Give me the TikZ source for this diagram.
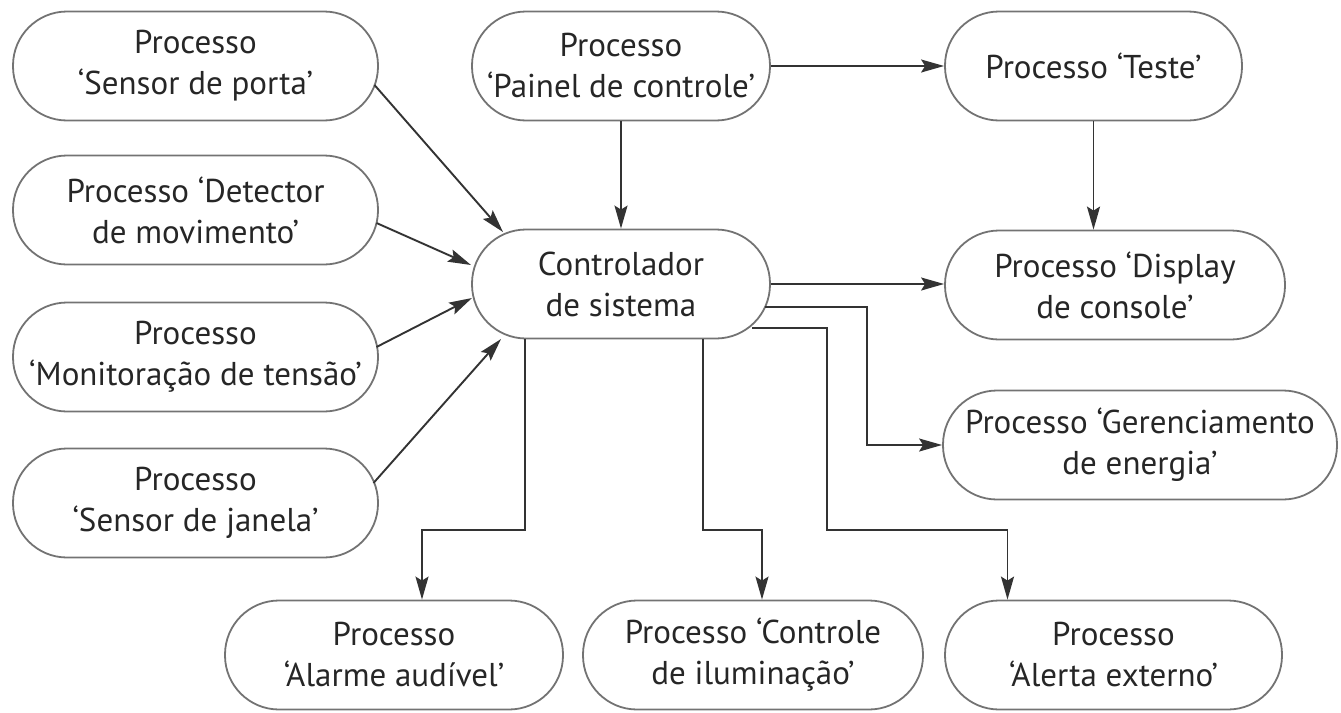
\documentclass[tikz,border=0pt]{standalone}
\usepackage{fontspec}
\setmainfont{PT Sans}
\usetikzlibrary{arrows.meta}
\definecolor{boxgray}{gray}{0.45}
\definecolor{txt}{gray}{0.15}
\definecolor{wire}{gray}{0.2}
\begin{document}
\begin{tikzpicture}[x=1pt,y=-1pt,
  proc/.style={draw=boxgray, line width=1.8pt, rounded corners=54pt,
    align=center, inner sep=0pt, minimum height=109pt, text=txt,
    font=\fontsize{33}{41}\selectfont},
  link/.style={draw=wire, line width=1.9pt,
    -{Stealth[length=23pt,width=13pt,inset=4pt]}}]
\useasboundingbox (0,0) rectangle (1341,712);

% input processes
\node[proc, minimum width=365pt] (sp) at (195.5,66)  {Processo\\‘Sensor de porta’};
\node[proc, minimum width=365pt] (dm) at (195.5,210) {Processo ‘Detector\\de movimento’};
\node[proc, minimum width=365pt] (mt) at (195.5,357) {Processo\\‘Monitoração de tensão’};
\node[proc, minimum width=365pt] (sj) at (195.5,503) {Processo\\‘Sensor de janela’};

% top row and controller
\node[proc, minimum width=298pt] (pc) at (621,66)    {Processo\\‘Painel de controle’};
\node[proc, minimum width=297pt] (ts) at (1093.5,66) {Processo ‘Teste’};
\node[proc, minimum width=298pt] (ct) at (621,284)   {Controlador\\de sistema};

% output processes
\node[proc, minimum width=340pt] (dc) at (1115,285)  {Processo ‘Display\\de console’};
\node[proc, minimum width=394pt] (ge) at (1140,445)  {Processo ‘Gerenciamento\\de energia’};
\node[proc, minimum width=338pt] (aa) at (394,655)   {Processo\\‘Alarme audível’};
\node[proc, minimum width=340pt] (ci) at (753,655)   {Processo ‘Controle\\de iluminação’};
\node[proc, minimum width=337pt] (ae) at (1113.5,655){Processo\\‘Alerta externo’};

% sensors into the controller
\draw[link] ([shift={(179,19)}]sp.center)  -- ([shift={(-118,-52)}]ct.center);
\draw[link] ([shift={(181,13)}]dm.center)  -- ([shift={(-150,-19)}]ct.center);
\draw[link] ([shift={(181,-10)}]mt.center) -- ([shift={(-149,14)}]ct.center);
\draw[link] ([shift={(178,-20)}]sj.center) -- ([shift={(-120,55)}]ct.center);

% control panel and test
\draw[link] (pc.east) -- (ts.west);
\draw[link] (pc.south) -- (ct.north);
\draw[link] (ts.south) -- (ts.south |- dc.north);

% controller outputs
\draw[link] (ct.east) -- (ct.east -| dc.west);
\draw[link] ([shift={(144,23)}]ct.center) -- ++(102,0) |- (ge.west);
\draw[link] ([shift={(131,44)}]ct.center) -- ++(75,0)
  |- ([xshift=-106pt,yshift=70pt]ae.north) -- ([xshift=-106pt]ae.north);
\draw[link] ([xshift=-96pt]ct.south)
  |- ([xshift=28pt,yshift=70pt]aa.north) -- ([xshift=28pt]aa.north);
\draw[link] ([xshift=82pt]ct.south)
  |- ([xshift=9pt,yshift=70pt]ci.north) -- ([xshift=9pt]ci.north);
\end{tikzpicture}
\end{document}
